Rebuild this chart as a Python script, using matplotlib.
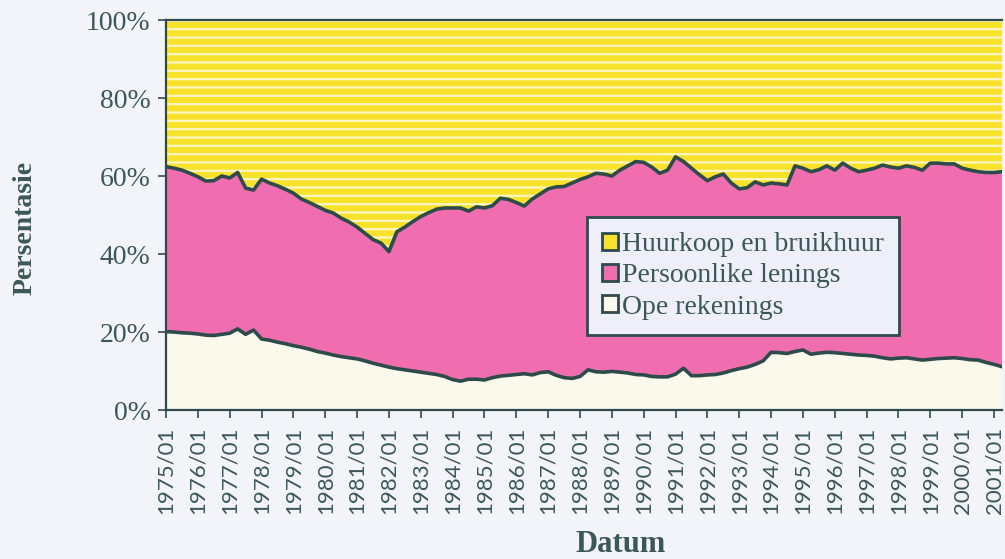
import matplotlib
matplotlib.use("Agg")
import matplotlib.pyplot as plt
import numpy as np
from matplotlib.patches import Patch

# quarterly shares (%), 1975Q1 .. 2001Q2
start_year = 1975
ope_rekenings = [
    20.1, 20.0, 19.8, 19.7,  19.5, 19.2, 19.1, 19.4,  19.7, 20.8, 19.4, 20.5,
    18.2, 17.9, 17.4, 17.0,  16.5, 16.1, 15.6, 15.0,  14.6, 14.1, 13.7, 13.4,
    13.1, 12.6, 12.0, 11.5,  11.0, 10.6, 10.3, 10.0,  9.7, 9.4, 9.1, 8.6,
    7.8, 7.4, 7.9, 7.9,  7.7, 8.3, 8.7, 8.9,  9.1, 9.3, 9.0, 9.6,
    9.8, 8.9, 8.3, 8.1,  8.6, 10.3, 9.8, 9.7,  9.9, 9.7, 9.5, 9.1,
    9.0, 8.6, 8.5, 8.5,  9.2, 10.7, 8.8, 8.8,  9.0, 9.1, 9.5, 10.1,
    10.6, 11.0, 11.7, 12.6,  14.8, 14.7, 14.5, 15.0,  15.4, 14.3, 14.6, 14.8,
    14.7, 14.5, 14.3, 14.1,  14.0, 13.8, 13.4, 13.1,  13.3, 13.4, 13.1, 12.8,
    13.0, 13.2, 13.3, 13.4,  13.2, 12.9, 12.8, 12.2,  11.7, 11.1,
]
persoonlike_lenings = [
    42.3, 42.0, 41.7, 41.0,  40.3, 39.5, 39.7, 40.6,  39.8, 40.1, 37.5, 35.9,
    41.0, 40.3, 40.1, 39.6,  39.1, 38.0, 37.6, 37.2,  36.6, 36.4, 35.5, 34.8,
    33.8, 32.7, 31.7, 31.3,  29.6, 35.1, 36.6, 38.3,  39.9, 41.2, 42.4, 43.2,
    44.0, 44.4, 43.1, 44.2,  44.1, 44.1, 45.6, 45.1,  44.1, 43.0, 45.1, 45.8,
    46.9, 48.3, 49.0, 50.1,  50.5, 49.5, 50.9, 50.8,  50.1, 51.8, 53.1, 54.6,
    54.5, 53.7, 52.2, 53.0,  55.7, 53.0, 53.2, 51.5,  49.8, 50.7, 51.0, 48.1,
    46.1, 46.0, 46.8, 45.1,  43.4, 43.3, 43.2, 47.6,  46.6, 46.8, 47.0, 47.8,
    46.8, 48.8, 47.7, 47.0,  47.5, 48.2, 49.4, 49.2,  48.7, 49.2, 49.1, 48.7,
    50.3, 50.1, 49.8, 49.7,  48.8, 48.6, 48.3, 48.7,  49.2, 50.0,
]
huurkoop = [100 - a - b for a, b in zip(ope_rekenings, persoonlike_lenings)]

tick_years = list(range(1975, 2002))
tick_labels = [f"{y}/01" for y in tick_years]
y_ticks = [0, 20, 40, 60, 80, 100]

series_labels = ["Huurkoop en bruikhuur", "Persoonlike lenings", "Ope rekenings"]
line_col = "#2e4b4b"
text_col = "#3b5858"
bg = "#f3f4f9"
yellow, pink, cream = "#f8e22c", "#f06eb0", "#fbf8ec"

t = start_year + np.arange(len(ope_rekenings)) / 4.0
ope = np.array(ope_rekenings)
top = ope + np.array(persoonlike_lenings)

plt.rcParams["hatch.linewidth"] = 1.6
fig = plt.figure(figsize=(10.05, 5.59), dpi=100)
fig.patch.set_facecolor(bg)
ax = fig.add_axes([166 / 1005, 149 / 559, 836 / 1005, 390 / 559])
ax.set_facecolor(bg)

ax.fill_between(t, top, 100, facecolor=yellow, edgecolor="#fdf6c4",
                hatch="--", linewidth=0, zorder=1)
ax.fill_between(t, ope, top, facecolor=pink, linewidth=0, zorder=1)
ax.fill_between(t, 0, ope, facecolor=cream, linewidth=0, zorder=1)
ax.plot(t, top, color=line_col, lw=2.6, zorder=3, solid_joinstyle="round")
ax.plot(t, ope, color=line_col, lw=2.6, zorder=3, solid_joinstyle="round")

ax.set_xlim(start_year, t[-1])
ax.set_ylim(0, 100)
ax.set_xticks(tick_years)
ax.set_xticklabels(tick_labels, rotation=90, family="Lato", fontsize=16,
                   color=text_col)
ax.set_yticks(y_ticks)
ax.set_yticklabels([f"{v}%" for v in y_ticks], family="Liberation Serif",
                   fontsize=20, color=text_col)
ax.tick_params(axis="both", direction="out", length=6, width=1.2,
               color=line_col)
ax.tick_params(axis="x", pad=6)
ax.tick_params(axis="y", pad=5)
ax.spines["right"].set_visible(False)
for s in ["left", "bottom", "top"]:
    ax.spines[s].set_color(line_col)
    ax.spines[s].set_linewidth(1.6)

fig.text(25 / 1005, 1 - 228 / 559, "Persentasie", rotation=90, ha="center",
         va="center", family="Liberation Serif", fontweight="bold",
         fontsize=20, color=text_col)
fig.text(621 / 1005, 1 - 544 / 559, "Datum", ha="center", va="center",
         family="Liberation Serif", fontweight="bold", fontsize=22,
         color=text_col)

handles = [Patch(facecolor=c, edgecolor=line_col, linewidth=2)
           for c in (yellow, pink, cream)]
leg = ax.legend(handles, series_labels, loc="upper left",
                bbox_to_anchor=((587 - 166) / 836, 1 - (217 - 20) / 390),
                prop={"family": "Liberation Serif", "size": 20},
                handlelength=0.55, handleheight=0.55, handletextpad=0.15,
                labelspacing=0.22, borderpad=0.55, borderaxespad=0,
                fancybox=False, framealpha=1)
leg.get_frame().set_facecolor("#eeeff8")
leg.get_frame().set_edgecolor(line_col)
leg.get_frame().set_linewidth(2)
for txt in leg.get_texts():
    txt.set_color(text_col)
leg.set_zorder(5)

fig.savefig("out.png", dpi=100, facecolor=fig.get_facecolor())
